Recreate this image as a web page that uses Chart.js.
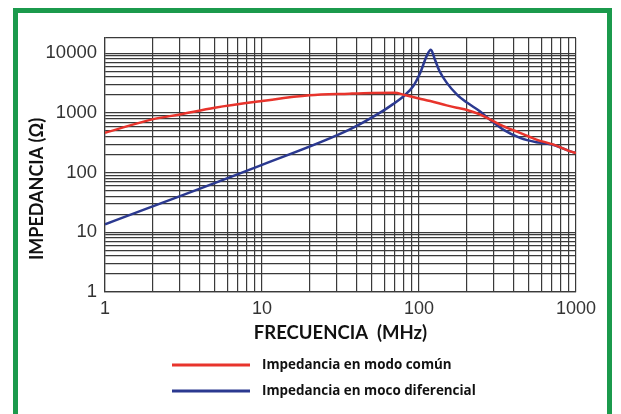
<!DOCTYPE html>
<html>
<head>
<meta charset="utf-8">
<script src="https://cdn.jsdelivr.net/npm/chart.js@4.4.1/dist/chart.umd.min.js"></script>
<style>
  html, body { margin: 0; padding: 0; background: #fff; overflow: hidden; }
  #wrap { position: relative; width: 621px; height: 414px; }
  #frame { position: absolute; left: 13px; top: 8px; width: 589px; height: 430px; border: 5px solid #1b9a4c; }
  canvas { position: absolute; left: 0; top: 0; }
</style>
</head>
<body>
<div id="wrap">
  <div id="frame"></div>
  <canvas id="chart" width="621" height="414"></canvas>
</div>
<script>
// Frequency (MHz) / impedance (ohm)
var freqComun = [1, 2, 3, 5, 10, 20, 36, 50, 70, 81, 100, 118, 150, 174, 202, 244, 281, 344, 440, 560, 720, 920, 1000];
var zComun    = [464, 780, 944, 1220, 1580, 1970, 2100, 2160, 2180, 2000, 1750, 1580, 1340, 1220, 1120, 944, 790, 600, 464, 358, 294, 227, 214];

var freqDif = [1, 10, 36, 56.5, 68, 81, 92, 102, 112, 119, 126, 135, 150, 174, 202, 244, 281, 344, 440, 560, 630, 720, 920, 1000];
var zDif    = [13.6, 135, 525, 1010, 1390, 1970, 2820, 4750, 9040, 11400, 7950, 5040, 3220, 2050, 1490, 1070, 780, 525, 382, 323, 310, 290, 227, 214];

var xDecades = [1, 10, 100, 1000];
var yDecades = [1, 10, 100, 1000, 10000];
var yTop = 18000;
var xTitle = 'FRECUENCIA  (MHz)';
var yTitle = 'IMPEDANCIA (\u03A9)';
var labels = ['Impedancia en modo común', 'Impedancia en moco diferencial'];

function gridValues(decades, extra) {
  var out = [];
  decades.forEach(function(d, i) {
    if (i === decades.length - 1) { out.push(d); return; }
    for (var m = 1; m < 10; m++) out.push(d * m);
  });
  if (extra) out.push(extra);
  return out;
}
var xGrid = gridValues(xDecades);
var yGrid = gridValues(yDecades, yTop);

function pts(xs, ys) {
  return xs.map(function(x, i) { return { x: x, y: ys[i] }; });
}

var gridColor = '#3a3a3a';

var extras = {
  id: 'extras',
  afterDraw: function(chart) {
    var ctx = chart.ctx;
    ctx.save();
    // y axis title
    ctx.translate(37, 189);
    ctx.rotate(-Math.PI / 2);
    ctx.font = 'bold 18px Lato';
    ctx.fillStyle = '#111';
    ctx.textAlign = 'center';
    ctx.textBaseline = 'middle';
    ctx.fillText(yTitle, 0, 0);
    ctx.restore();

    // legend
    ctx.save();
    chart.data.datasets.forEach(function(ds, i) {
      var y = 365 + i * 26;
      ctx.strokeStyle = ds.borderColor;
      ctx.lineWidth = 3;
      ctx.beginPath();
      ctx.moveTo(172, y);
      ctx.lineTo(250, y);
      ctx.stroke();
      ctx.font = 'bold 13.4px "Open Sans"';
      ctx.fillStyle = '#111';
      ctx.textBaseline = 'middle';
      ctx.fillText(ds.label, 262, y);
    });
    ctx.restore();
  }
};

new Chart(document.getElementById('chart'), {
  type: 'line',
  data: {
    datasets: [{
      label: labels[0],
      data: pts(freqComun, zComun),
      borderColor: '#e8342c',
      borderWidth: 2.5,
      pointRadius: 0,
      cubicInterpolationMode: 'monotone',
      fill: false
    }, {
      label: labels[1],
      data: pts(freqDif, zDif),
      borderColor: '#2b3990',
      borderWidth: 2.5,
      pointRadius: 0,
      cubicInterpolationMode: 'monotone',
      fill: false
    }]
  },
  options: {
    responsive: false,
    animation: false,
    devicePixelRatio: 1,
    layout: { padding: { left: 12, right: 45, top: 38, bottom: 66 } },
    plugins: { legend: { display: false }, tooltip: { enabled: false } },
    scales: {
      x: {
        type: 'logarithmic',
        min: 1, max: 1000,
        afterBuildTicks: function(s) { s.ticks = xGrid.map(function(v) { return { value: v }; }); },
        afterFit: function(s) { s.height = 56; },
        grid: { color: gridColor, lineWidth: 1.2, drawTicks: false },
        border: { color: gridColor, width: 1.2 },
        ticks: {
          autoSkip: false, maxRotation: 0, padding: 6,
          font: { family: 'Liberation Sans', size: 18 }, color: '#333',
          callback: function(v) { return xDecades.indexOf(v) >= 0 ? String(v) : ''; }
        },
        title: {
          display: true, text: xTitle, color: '#111',
          font: { family: 'Lato', size: 18.5, weight: 'bold' },
          padding: 4
        }
      },
      y: {
        type: 'logarithmic',
        min: 1, max: yTop,
        afterBuildTicks: function(s) { s.ticks = yGrid.map(function(v) { return { value: v }; }); },
        afterFit: function(s) { s.width = 93; },
        grid: { color: gridColor, lineWidth: 1.2, drawTicks: false },
        border: { color: gridColor, width: 1.2 },
        ticks: {
          autoSkip: false, padding: 8,
          font: { family: 'Liberation Sans', size: 18.5 }, color: '#333',
          callback: function(v) { return yDecades.indexOf(v) >= 0 ? String(v) : ''; }
        }
      }
    }
  },
  plugins: [extras]
});
</script>
</body>
</html>
